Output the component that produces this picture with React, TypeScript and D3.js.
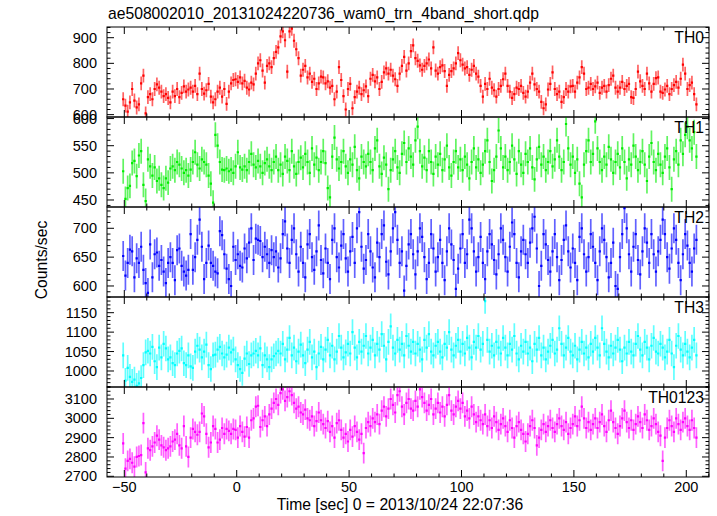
import React from 'react';
import * as d3 from 'd3';

// ---------- data (1 s bins, first bin centred at -50.5 s) ----------
const T_FIRST = -50.5;
const BIN = 1;

const TH0 = [
  660, 635, 612, 648, 700, 655, 628, 640, 722, 752,
  605, 668, 680, 660, 700, 718, 705, 690, 672, 680,
  665, 648, 690, 672, 700, 668, 685, 710, 690, 698,
  705, 690, 712, 680, 760, 700, 682, 695, 720, 670,
  648, 660, 690, 705, 670, 700, 642, 690, 722, 735,
  738, 728, 745, 722, 732, 705, 698, 725, 718, 760,
  800, 812, 772, 725, 790, 800, 785, 820, 845, 862,
  905, 925, 890, 768, 925, 935, 888, 855, 820, 752,
  775, 790, 745, 760, 728, 740, 700, 722, 748, 745,
  722, 730, 705, 712, 660, 690, 785, 735, 672, 620,
  700, 720, 625, 668, 690, 705, 680, 695, 710, 672,
  740, 755, 730, 745, 700, 728, 765, 780, 760, 775,
  752, 738, 712, 760, 790, 825, 772, 800, 848, 870,
  820, 810, 792, 775, 790, 800, 815, 780, 862, 772,
  760, 785, 792, 770, 712, 755, 770, 780, 800, 840,
  812, 795, 780, 785, 755, 775, 790, 760, 748, 712,
  670, 720, 700, 740, 705, 695, 670, 700, 712, 738,
  760, 712, 690, 665, 680, 705, 700, 712, 685, 670,
  690, 725, 760, 718, 700, 690, 650, 625, 640, 698,
  720, 765, 700, 680, 690, 650, 668, 700, 690, 710,
  712, 690, 725, 745, 785, 760, 700, 705, 720, 700,
  710, 725, 685, 705, 712, 690, 715, 740, 752, 705,
  690, 705, 728, 700, 712, 720, 668, 665, 700, 768,
  730, 712, 700, 760, 722, 690, 720, 742, 745, 690,
  685, 698, 712, 680, 700, 715, 728, 705, 740, 795,
  760, 700, 715, 725, 680, 640,
];

const TH1 = [
  503, 452, 472, 476, 518, 522, 494, 532, 540, 478,
  448, 525, 512, 495, 510, 485, 490, 478, 472, 490,
  482, 508, 512, 505, 520, 515, 508, 500, 505, 495,
  506, 520, 538, 515, 508, 525, 520, 515, 495, 480,
  445, 570, 550, 520, 506, 505, 508, 503, 506, 500,
  512, 538, 510, 506, 512, 505, 520, 535, 515, 510,
  522, 512, 500, 518, 525, 512, 505, 520, 530, 505,
  515, 498, 530, 522, 505, 540, 512, 498, 520, 528,
  510, 535, 520, 500, 545, 515, 528, 505, 520, 540,
  518, 472, 455, 530, 565, 525, 508, 520, 540, 512,
  500, 525, 515, 548, 505, 490, 530, 520, 512, 535,
  520, 505, 545, 560, 512, 498, 528, 515, 470, 505,
  525, 540, 510, 500, 535, 555, 520, 545, 530, 515,
  560, 585, 540, 512, 528, 505, 540, 520, 498, 530,
  515, 535, 505, 525, 550, 510, 495, 520, 540, 510,
  525, 505, 530, 515, 490, 520, 545, 510, 525, 500,
  515, 540, 560, 520, 485, 505, 530, 578, 545, 510,
  530, 505, 520, 550, 525, 498, 540, 515, 500, 535,
  520, 545, 510, 488, 525, 548, 515, 530, 505, 520,
  540, 512, 525, 560, 530, 505, 520, 590, 545, 515,
  530, 500, 525, 480, 455, 515, 540, 560, 520, 535,
  595, 545, 520, 505, 530, 515, 548, 525, 500, 520,
  535, 510, 545, 520, 490, 525, 515, 550, 530, 505,
  520, 540, 515, 485, 530, 555, 520, 505, 535, 515,
  500, 530, 545, 510, 470, 525, 540, 515, 560, 535,
  570, 585, 560, 545, 575, 530,
];

const TH2 = [
  652, 618, 640, 663, 660, 615, 648, 640, 668, 628,
  605, 588, 672, 615, 655, 658, 635, 645, 625, 605,
  640, 650, 640, 610, 662, 665, 635, 625, 618, 628,
  690, 628, 650, 680, 715, 668, 612, 640, 670, 640,
  635, 625, 622, 695, 688, 655, 630, 612, 600, 668,
  645, 655, 635, 632, 665, 648, 675, 700, 645, 682,
  680, 678, 650, 668, 655, 640, 662, 650, 660, 632,
  648, 690, 712, 665, 640, 680, 700, 655, 625, 668,
  640, 615, 672, 690, 650, 628, 660, 705, 645, 622,
  665, 640, 612, 680, 700, 650, 632, 670, 690, 648,
  625, 660, 685, 640, 700, 728, 668, 630, 645, 690,
  660, 632, 615, 675, 650, 690, 705, 642, 620, 660,
  700, 728, 680, 640, 660, 592, 635, 672, 690, 655,
  620, 660, 700, 685, 650, 612, 640, 690, 665, 625,
  650, 680, 640, 610, 660, 700, 672, 645, 595, 630,
  665, 690, 640, 655, 715, 700, 660, 625, 650, 685,
  640, 612, 660, 690, 672, 645, 620, 655, 700, 680,
  650, 625, 668, 710, 690, 640, 615, 660, 680, 655,
  640, 675, 700, 720, 665, 600, 635, 690, 672, 645,
  625, 660, 690, 650, 610, 645, 680, 705, 660, 632,
  665, 640, 610, 685, 700, 655, 625, 650, 690, 668,
  640, 610, 660, 700, 680, 650, 615, 640, 675, 600,
  595, 650, 690, 735, 700, 655, 625, 668, 690, 645,
  620, 660, 700, 675, 640, 690, 655, 625, 660, 680,
  715, 690, 650, 630, 665, 700, 680, 640, 610, 655,
  690, 670, 640, 625, 665, 680,
];

const TH3 = [
  1040, 975, 1008, 985, 972, 978, 962, 968, 982, 1015,
  1048, 1052, 1045, 1062, 1025, 1010, 1060, 1035, 1070, 1058,
  1030, 1035, 1020, 1015, 1045, 1052, 1058, 1020, 1015, 1040,
  1012, 1008, 1050, 1065, 1055, 1035, 1050, 1068, 1015, 1005,
  1040, 1042, 1055, 1062, 1045, 1035, 1042, 1060, 1048, 1055,
  1030, 1015, 1005, 995, 1032, 1045, 1018, 1040, 1045, 1052,
  1040, 1058, 1015, 1040, 1030, 1010, 1030, 1038, 1045, 1052,
  1045, 1070, 1030, 1055, 1085, 1040, 1060, 1025, 1050, 1068,
  1040, 1020, 1055, 1075, 1035, 1050, 1010, 1045, 1062, 1030,
  1055, 1080, 1040, 1065, 1030, 1050, 1090, 1060, 1035, 1048,
  1070, 1045, 1100, 1060, 1035, 1075, 1050, 1065, 1090, 1045,
  1060, 1080, 1040, 1070, 1055, 1095, 1065, 1030, 1075, 1115,
  1060, 1045, 1080, 1055, 1070, 1040, 1090, 1065, 1050, 1075,
  1045, 1070, 1055, 1030, 1080, 1060, 1095, 1050, 1040, 1065,
  1075, 1050, 1035, 1070, 1060, 1100, 1055, 1040, 1065, 1080,
  1050, 1070, 1045, 1085, 1060, 1035, 1075, 1060, 1090, 1055,
  1070, 1180, 1080, 1050, 1065, 1040, 1075, 1060, 1045, 1085,
  1060, 1040, 1070, 1055, 1090, 1045, 1030, 1065, 1050, 1075,
  1045, 1060, 1025, 1070, 1055, 1085, 1040, 1060, 1030, 1050,
  1065, 1080, 1045, 1055, 1110, 1070, 1040, 1060, 1085, 1050,
  1040, 1065, 1030, 1055, 1075, 1045, 1060, 1035, 1070, 1050,
  1085, 1060, 1040, 1110, 1070, 1050, 1035, 1065, 1045, 1060,
  1080, 1055, 1025, 1060, 1045, 1075, 1050, 1040, 1070, 1090,
  1055, 1040, 1075, 1060, 1030, 1065, 1085, 1050, 1045, 1070,
  1060, 1035, 1050, 1080, 1045, 1010, 1065, 1090, 1055, 1040,
  1070, 1050, 1035, 1060, 1080, 1040,
];

const TH0123 = [
  2870, 2740, 2780, 2790, 2770, 2750, 2800, 2805, 2810, 2975,
  2720, 2845, 2835, 2855, 2875, 2910, 2890, 2860, 2850, 2835,
  2845, 2855, 2880, 2890, 2920, 2860, 2845, 2960, 2855, 2800,
  2900, 2945, 2930, 2915, 2930, 3025, 3010, 2920, 2850, 2875,
  2960, 2945, 2875, 2890, 2950, 2920, 2945, 2935, 2920, 2945,
  2940, 2900, 2960, 2930, 2905, 2955, 2900, 2990, 3000, 3060,
  3065, 2955, 2990, 3010, 2960, 3020, 3050, 3080, 3100, 3070,
  3130, 3150, 3090, 3110, 3140, 3120, 3080, 3050, 3060, 3030,
  3020, 3045, 3000, 2990, 3010, 2960, 2985, 3030, 2990, 2970,
  2950, 2985, 2930, 2960, 2900, 2975, 2990, 2940, 2900, 2920,
  2880, 2940, 2905, 2960, 2930, 2890, 2920, 2820, 2950, 2980,
  2960, 3000, 2980, 3020, 2970, 3040, 3060, 3010, 3050, 3100,
  3070, 3030, 3120, 3140, 3060, 3020, 3080, 3100, 3050, 3040,
  3090, 3060, 3150, 3110, 3080, 3040, 3070, 3100, 3020, 3050,
  3080, 3030, 3060, 3010, 3070, 3120, 3040, 3020, 3060, 3090,
  3050, 3080, 3010, 3040, 3000, 3060, 3020, 2980, 3010, 2990,
  2970, 3020, 2960, 2990, 2950, 3010, 2980, 2940, 2970, 3000,
  2960, 2930, 2990, 2950, 2900, 2960, 2980, 2940, 2920, 2880,
  2920, 2960, 2990, 2950, 2860, 2900, 2940, 2970, 2930, 2960,
  2990, 2950, 2930, 2970, 3000, 2960, 2940, 2980, 2920, 2950,
  2970, 3010, 2960, 2990, 3060, 3000, 2950, 2980, 2940, 2970,
  3000, 2950, 2980, 3020, 2960, 2930, 2990, 3040, 2980, 2950,
  2920, 2960, 3000, 3040, 2980, 2950, 2990, 2940, 2970, 3010,
  2980, 2950, 3020, 2990, 2940, 2960, 3000, 2970, 2930, 2910,
  2780, 2900, 2950, 2990, 2960, 2930, 3000, 2970, 2940, 2980,
  3000, 2960, 2940, 2990, 2950, 2900,
];

const SERIES = [TH0, TH1, TH2, TH3, TH0123];
const PANEL_NAMES = ['TH0', 'TH1', 'TH2', 'TH3', 'TH0123'];
const ERRORS = [27, 23, 26, 33, 54];
const Y_DOMAINS = [
  [590.8, 941.7],
  [437.1, 602.9],
  [580.9, 736.9],
  [958.8, 1190.4],
  [2696.4, 3162],
];
const Y_MAJOR = [
  [600, 700, 800, 900],
  [450, 500, 550, 600],
  [600, 650, 700],
  [1000, 1050, 1100, 1150],
  [2700, 2800, 2900, 3000, 3100],
];
const Y_MINOR_STEP = [20, 10, 10, 10, 20];
const X_DOMAIN = [-57.7, 210.1];
const X_MAJOR = [-50, 0, 50, 100, 150, 200];
const X_MINOR_STEP = 10;
const COLORS = ['#ff0000', '#00ee00', '#0000ff', '#00ffff', '#ff00ff'];

const TITLE = 'ae508002010_20131024220736_wam0_trn_4band_short.qdp';
const X_LABEL = 'Time [sec] 0 = 2013/10/24 22:07:36';
const Y_LABEL = 'Counts/sec';

// ---------- layout ----------
const W = 717;
const H = 516;
const LEFT = 107;
const RIGHT = 709;
const TOP = 27;
const PANEL_H = 90;
const MAJ = 7;
const MIN = 3.5;
const FONT = '"Liberation Sans", Arial, Helvetica, sans-serif';

const fmt = (v: number) => (v < 0 ? '\u2212' + Math.abs(v) : String(v));

export default function App() {
  const x = d3.scaleLinear().domain(X_DOMAIN).range([LEFT, RIGHT]);
  const xMinor = d3.range(-50, 211, X_MINOR_STEP).filter((v) => v >= X_DOMAIN[0] && v <= X_DOMAIN[1]);
  const bottom = TOP + PANEL_H * SERIES.length;

  const panels = SERIES.map((vals, k) => {
    const y0 = TOP + k * PANEL_H;
    const y1 = y0 + PANEL_H;
    const y = d3.scaleLinear().domain(Y_DOMAINS[k]).range([y1, y0]);
    const e = ERRORS[k];
    let steps = '';
    let errs = '';
    vals.forEach((v, i) => {
      const t = T_FIRST + i * BIN;
      steps += `M${x(t - BIN / 2).toFixed(2)},${y(v).toFixed(2)}H${x(t + BIN / 2).toFixed(2)}`;
      errs += `M${x(t).toFixed(2)},${y(v - e).toFixed(2)}V${y(v + e).toFixed(2)}`;
    });
    const [d0, d1] = Y_DOMAINS[k];
    const step = Y_MINOR_STEP[k];
    const minor = d3.range(Math.ceil(d0 / step) * step, d1, step);
    let ticks = '';
    xMinor.forEach((v) => {
      const len = X_MAJOR.includes(v) ? MAJ : MIN;
      const xx = x(v);
      ticks += `M${xx},${y1}v${-len}M${xx},${y0}v${len}`;
    });
    minor.forEach((v) => {
      const len = Y_MAJOR[k].includes(v) ? MAJ : MIN;
      const yy = y(v);
      ticks += `M${LEFT},${yy}h${len}M${RIGHT},${yy}h${-len}`;
    });
    const clipId = `clip-${k}`;
    return (
      <g key={k}>
        <defs>
          <clipPath id={clipId}>
            <rect x={LEFT} y={y0} width={RIGHT - LEFT} height={PANEL_H} />
          </clipPath>
        </defs>
        <g clipPath={`url(#${clipId})`}>
          <path d={errs} stroke={COLORS[k]} strokeWidth={1.7} strokeOpacity={0.62} fill="none" />
          <path d={steps} stroke={COLORS[k]} strokeWidth={2.2} fill="none" />
        </g>
        <path d={ticks} stroke="#000" strokeWidth={1} fill="none" />
        <rect x={LEFT} y={y0} width={RIGHT - LEFT} height={PANEL_H} fill="none" stroke="#000" strokeWidth={1} />
        {Y_MAJOR[k].map((v) => (
          <text key={v} x={97} y={y(v) + 5} textAnchor="end" fontSize={14.5} fontFamily={FONT} fill="#000">
            {v}
          </text>
        ))}
        <text x={704} y={y0 + 16.3} textAnchor="end" fontSize={15.7} fontFamily={FONT} fill="#000">
          {PANEL_NAMES[k]}
        </text>
      </g>
    );
  });

  return (
    <svg
      width={W}
      height={H}
      style={{ position: 'absolute', left: 0, top: 0, background: '#fff' }}
      xmlns="http://www.w3.org/2000/svg"
    >
      <rect x={0} y={0} width={W} height={H} fill="#fff" />
      <text x={108} y={19} fontSize={15.7} fontFamily={FONT} fill="#000">
        {TITLE}
      </text>
      {panels}
      {X_MAJOR.map((v) => (
        <text key={v} x={x(v)} y={bottom + 15} textAnchor="middle" fontSize={14.5} fontFamily={FONT} fill="#000">
          {fmt(v)}
        </text>
      ))}
      <text x={400} y={509.5} textAnchor="middle" fontSize={15.7} fontFamily={FONT} fill="#000">
        {X_LABEL}
      </text>
      <text
        transform={`translate(46.5,260) rotate(-90)`}
        textAnchor="middle"
        fontSize={15.7}
        fontFamily={FONT}
        fill="#000"
      >
        {Y_LABEL}
      </text>
    </svg>
  );
}
